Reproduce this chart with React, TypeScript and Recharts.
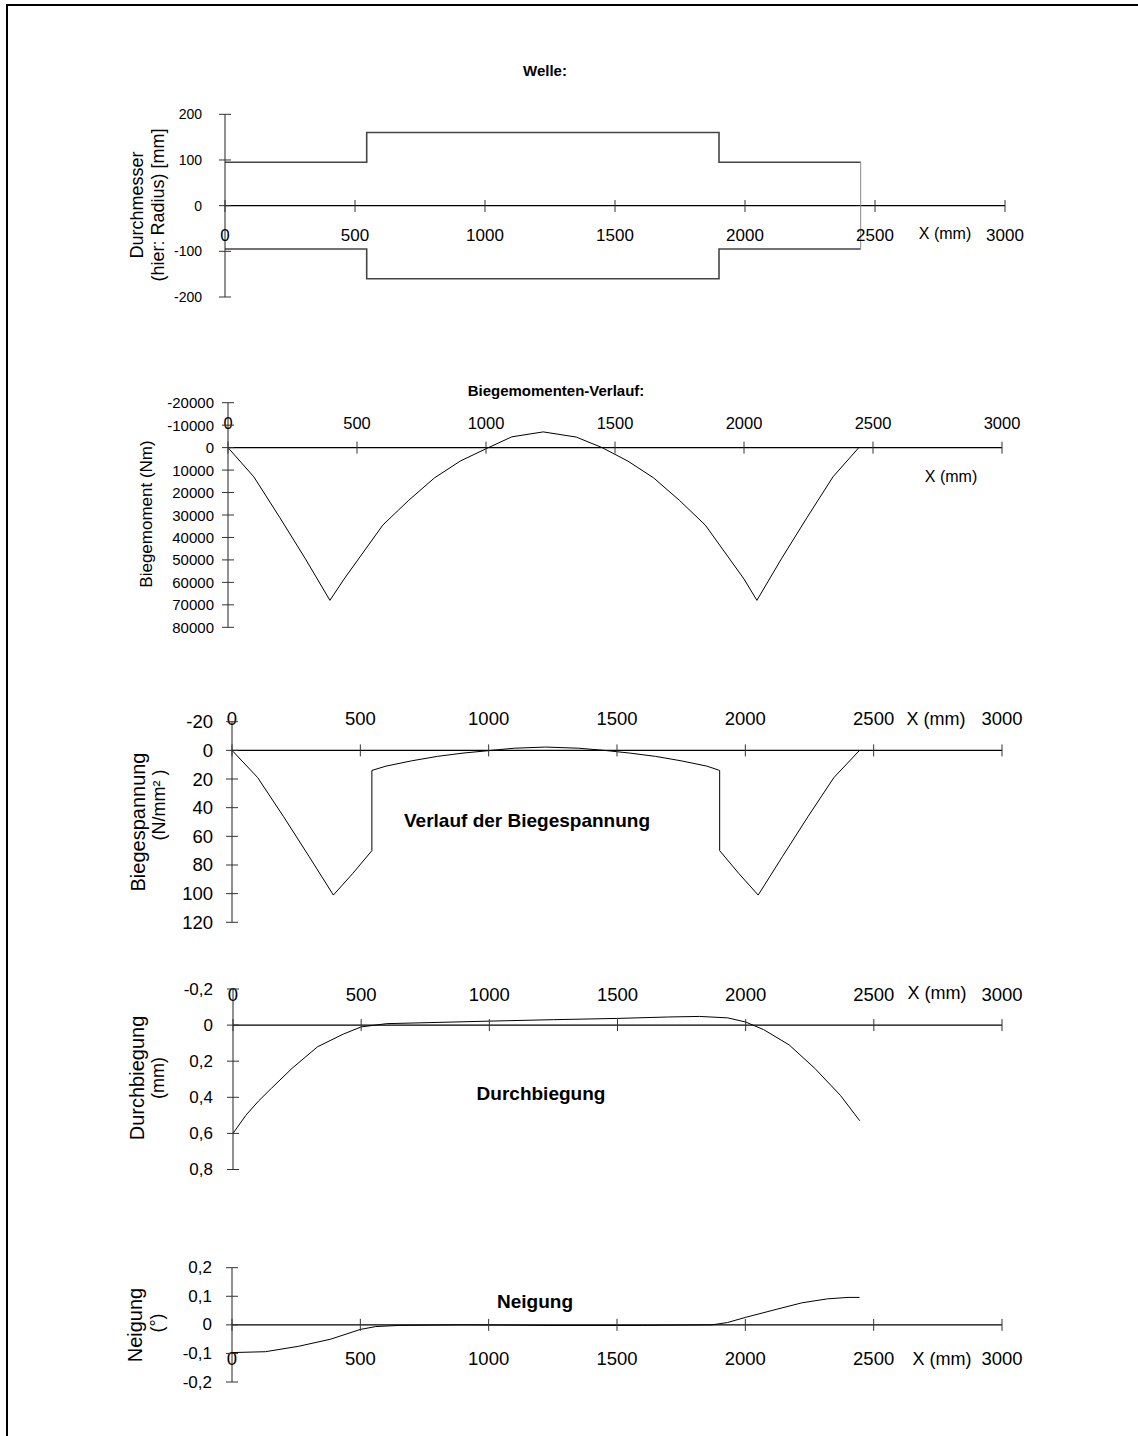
import React from 'react';
import { LineChart, Line, XAxis, YAxis, ReferenceLine } from 'recharts';

const FONT = '"Liberation Sans", Arial, Helvetica, sans-serif';
const W = 1138;
const H = 1436;

// shared x axis
const xTicks = [0, 500, 1000, 1500, 2000, 2500, 3000];

// Chart 1: Welle (radius)
const welleTicks = [-200, -100, 0, 100, 200];
const welleX = [0, 545, 545, 1900, 1900, 2445];
const welleUpperY = [95, 95, 160, 160, 95, 95];
const welleLowerY = [-95, -95, -160, -160, -95, -95];
const welleEndX = [2445, 2445];
const welleEndY = [95, -95];

// Chart 2: Biegemoment
const momentTicks = [-20000, -10000, 0, 10000, 20000, 30000, 40000, 50000, 60000, 70000, 80000];
const momentX = [0, 100, 200, 300, 395, 450, 500, 600, 700, 800, 900, 1000, 1100, 1222, 1350, 1450, 1550, 1650, 1750, 1850, 1950, 2000, 2050, 2145, 2245, 2345, 2445];
const momentY = [0, 13000, 31000, 49500, 68000, 58500, 50500, 34500, 23500, 13500, 6000, 500, -4800, -7000, -4700, 0, 6000, 13500, 23500, 34500, 50500, 58500, 68000, 49500, 31000, 13000, 0];

// Chart 3: Biegespannung
const stressTicks = [-20, 0, 20, 40, 60, 80, 100, 120];
const stressX = [0, 100, 200, 300, 395, 470, 545, 545, 600, 700, 800, 900, 1000, 1100, 1222, 1350, 1450, 1550, 1650, 1750, 1850, 1900, 1900, 1975, 2050, 2145, 2245, 2345, 2445];
const stressY = [0, 19, 46, 74, 101, 86, 70, 14, 11, 7.3, 4.2, 1.9, 0.2, -1.5, -2.3, -1.5, 0, 1.9, 4.2, 7.3, 11, 14, 70, 86, 101, 74, 46, 19, 0];

// Chart 4: Durchbiegung
const deflTicks = [-0.2, 0, 0.2, 0.4, 0.6, 0.8];
const deflX = [0, 50, 100, 150, 230, 330, 430, 500, 600, 800, 1000, 1250, 1500, 1700, 1820, 1930, 2000, 2070, 2170, 2270, 2370, 2445];
const deflY = [0.6, 0.5, 0.42, 0.35, 0.24, 0.12, 0.05, 0.01, -0.008, -0.015, -0.022, -0.03, -0.037, -0.045, -0.048, -0.04, -0.017, 0.025, 0.11, 0.24, 0.39, 0.53];

// Chart 5: Neigung
const slopeTicks = [-0.2, -0.1, 0, 0.1, 0.2];
const slopeX = [0, 130, 260, 385, 500, 560, 650, 900, 1230, 1600, 1870, 1930, 2000, 2120, 2220, 2320, 2400, 2445];
const slopeY = [-0.097, -0.094, -0.075, -0.05, -0.016, -0.006, -0.002, 0, -0.002, -0.002, 0, 0.008, 0.026, 0.054, 0.077, 0.091, 0.096, 0.096];

const zip = (xs: number[], ys: number[]) => xs.map((x, i) => ({ x, y: ys[i] }));
const de = (v: number) => String(v).replace('.', ',');

type Series = { data: { x: number; y: number }[]; stroke: string; width: number };
type Cfg = {
  bandTop: number;
  bandH: number;
  plotLeft: number;
  plotRight: number;
  plotTop: number;
  plotBottom: number;
  zeroY: number;
  domain: [number, number];
  reversed: boolean;
  yTicks: number[];
  yFont: number;
  yGap: number;
  xFont: number;
  xDy: number;
};

const YW = 90;
const XH = 2;

function Panel({ cfg, series }: { cfg: Cfg; series: Series[] }) {
  const margin = {
    top: cfg.plotTop - cfg.bandTop,
    bottom: cfg.bandTop + cfg.bandH - cfg.plotBottom - XH,
    left: cfg.plotLeft - YW,
    right: W - cfg.plotRight,
  };
  const zy = cfg.zeroY - cfg.bandTop;
  const axisX = cfg.plotLeft;
  const XTick = (p: any) => (
    <g>
      <line x1={p.x} x2={p.x} y1={zy - 6} y2={zy + 6} stroke="#333" strokeWidth={1} />
      <text x={p.x} y={zy + cfg.xDy} textAnchor="middle" dominantBaseline="central" fontFamily={FONT} fontSize={cfg.xFont} fill="#000">
        {p.payload.value}
      </text>
    </g>
  );
  const YTick = (p: any) => (
    <g>
      <line x1={axisX - 6} x2={axisX + 6} y1={p.y} y2={p.y} stroke="#333" strokeWidth={1} />
      <text x={axisX - cfg.yGap} y={p.y} textAnchor="end" dominantBaseline="central" fontFamily={FONT} fontSize={cfg.yFont} fill="#000">
        {de(p.payload.value)}
      </text>
    </g>
  );
  return (
    <div style={{ position: 'absolute', left: 0, top: cfg.bandTop }}>
      <LineChart width={W} height={cfg.bandH} margin={margin}>
        <XAxis
          type="number"
          dataKey="x"
          domain={[0, 3000]}
          ticks={xTicks}
          interval={0}
          height={XH}
          axisLine={false}
          tickLine={false}
          allowDataOverflow
          tick={XTick}
        />
        <YAxis
          type="number"
          dataKey="y"
          domain={cfg.domain}
          reversed={cfg.reversed}
          ticks={cfg.yTicks}
          interval={0}
          width={YW}
          axisLine={{ stroke: '#222', strokeWidth: 1 }}
          tickLine={false}
          tickSize={0}
          tickMargin={0}
          allowDataOverflow
          tick={YTick}
        />
        <ReferenceLine y={0} stroke="#000" strokeWidth={1.2} ifOverflow="extendDomain" />
        {series.map((s, i) => (
          <Line
            key={i}
            data={s.data}
            dataKey="y"
            type="linear"
            stroke={s.stroke}
            strokeWidth={s.width}
            dot={false}
            activeDot={false}
            isAnimationActive={false}
          />
        ))}
      </LineChart>
    </div>
  );
}

const cfg1: Cfg = { bandTop: 90, bandH: 230, plotLeft: 225, plotRight: 1005, plotTop: 114.3, plotBottom: 297, zeroY: 206, domain: [-200, 200], reversed: false, yTicks: welleTicks, yFont: 14, yGap: 23, xFont: 17, xDy: 29 };
const cfg2: Cfg = { bandTop: 380, bandH: 270, plotLeft: 228, plotRight: 1002, plotTop: 402.7, plotBottom: 627.3, zeroY: 447.6, domain: [-20000, 80000], reversed: true, yTicks: momentTicks, yFont: 15, yGap: 14, xFont: 16.5, xDy: -25 };
const cfg3: Cfg = { bandTop: 690, bandH: 250, plotLeft: 232, plotRight: 1002, plotTop: 721.7, plotBottom: 922.3, zeroY: 750.4, domain: [-20, 120], reversed: true, yTicks: stressTicks, yFont: 18.5, yGap: 19, xFont: 18.5, xDy: -32 };
const cfg4: Cfg = { bandTop: 960, bandH: 230, plotLeft: 233, plotRight: 1002, plotTop: 989, plotBottom: 1169.5, zeroY: 1025.1, domain: [-0.2, 0.8], reversed: true, yTicks: deflTicks, yFont: 17, yGap: 20, xFont: 18.5, xDy: -31 };
const cfg5: Cfg = { bandTop: 1240, bandH: 180, plotLeft: 232, plotRight: 1002, plotTop: 1267.7, plotBottom: 1382, zeroY: 1324.85, domain: [-0.2, 0.2], reversed: false, yTicks: slopeTicks, yFont: 17, yGap: 20, xFont: 18.5, xDy: 34 };

const T = (props: any) => <text fontFamily={FONT} fill="#000" textAnchor="middle" dominantBaseline="central" {...props} />;
const R = ({ x, y, size, children }: any) => (
  <text x={x} y={y} transform={`rotate(-90 ${x} ${y})`} fontFamily={FONT} fontSize={size} fill="#000" textAnchor="middle" dominantBaseline="central">
    {children}
  </text>
);

export default function App() {
  return (
    <div style={{ position: 'absolute', left: 0, top: 0, width: W, height: H, overflow: 'hidden', background: '#fff' }}>
      <div style={{ position: 'absolute', left: 6, top: 4, width: 1200, height: 1500, border: '2px solid #000', boxSizing: 'border-box' }} />
      <Panel
        cfg={cfg1}
        series={[
          { data: zip(welleX, welleUpperY), stroke: '#444', width: 1.6 },
          { data: zip(welleX, welleLowerY), stroke: '#444', width: 1.6 },
          { data: zip(welleEndX, welleEndY), stroke: '#888', width: 1 },
        ]}
      />
      <Panel cfg={cfg2} series={[{ data: zip(momentX, momentY), stroke: '#000', width: 1 }]} />
      <Panel cfg={cfg3} series={[{ data: zip(stressX, stressY), stroke: '#000', width: 1 }]} />
      <Panel cfg={cfg4} series={[{ data: zip(deflX, deflY), stroke: '#000', width: 1 }]} />
      <Panel cfg={cfg5} series={[{ data: zip(slopeX, slopeY), stroke: '#000', width: 1 }]} />
      <svg width={W} height={H} style={{ position: 'absolute', left: 0, top: 0, pointerEvents: 'none' }}>
        <T x={545} y={70} fontSize={15} fontWeight="bold">Welle:</T>
        <T x={556} y={390} fontSize={15} fontWeight="bold">Biegemomenten-Verlauf:</T>
        <T x={527} y={820} fontSize={19} fontWeight="bold">Verlauf der Biegespannung</T>
        <T x={541} y={1093} fontSize={19} fontWeight="bold">Durchbiegung</T>
        <T x={535} y={1301} fontSize={19} fontWeight="bold">Neigung</T>

        <T x={945} y={233} fontSize={16}>X (mm)</T>
        <T x={951} y={476} fontSize={16}>X (mm)</T>
        <T x={936} y={719} fontSize={18}>X (mm)</T>
        <T x={937} y={993} fontSize={18}>X (mm)</T>
        <T x={942} y={1359} fontSize={18}>X (mm)</T>

        <R x={137} y={205} size={18}>Durchmesser</R>
        <R x={158} y={205} size={18}>(hier: Radius) [mm]</R>
        <R x={146} y={514} size={17}>Biegemoment (Nm)</R>
        <R x={138} y={822} size={20}>Biegespannung</R>
        <R x={159} y={805} size={18}>(N/mm² )</R>
        <R x={137} y={1078} size={20}>Durchbiegung</R>
        <R x={158} y={1078} size={18}>(mm)</R>
        <R x={135} y={1325} size={20}>Neigung</R>
        <R x={157} y={1323} size={18}>(°)</R>
      </svg>
    </div>
  );
}
